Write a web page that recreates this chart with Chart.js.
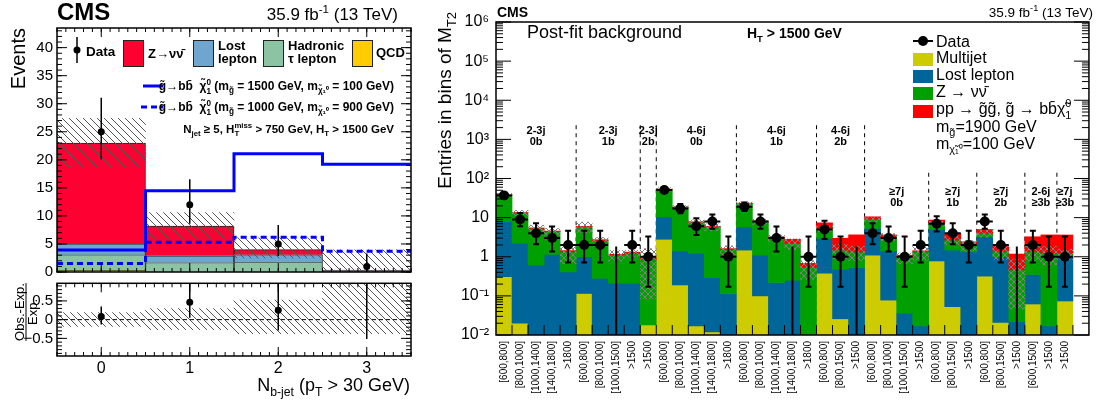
<!DOCTYPE html>
<html>
<head>
<meta charset="utf-8">
<script src="https://cdn.jsdelivr.net/npm/chart.js@4.4.1/dist/chart.umd.min.js"></script>
<style>
body { margin: 0; background: #fff; }
#wrap { position: relative; width: 1099px; height: 400px; }
canvas { position: absolute; }
</style>
</head>
<body>
<div id="wrap">
<canvas id="leftMain" width="420" height="285" style="left:0;top:0"></canvas>
<canvas id="leftRatio" width="420" height="130" style="left:0;top:270px"></canvas>
<canvas id="right" width="679" height="400" style="left:420px;top:0"></canvas>
</div>
<script>
// ---------- left panel: N b-jet distribution ----------
const nbJet = [0, 1, 2, 3];
const qcd = [0.3, 0.05, 0.05, 0.02];
const hadTau = [2.8, 1.65, 1.75, 0.15];
const lostLep = [1.9, 1.2, 1.3, 0.12];
const zInv = [18.0, 5.3, 0.9, 0.06];
const bkgUncUp = [4.4, 2.4, 2.1, 3.6];
const bkgUncDn = [4.2, 2.2, 1.5, 0.13];
const sig1500 = [3.9, 14.5, 21.1, 19.2];
const sig1000 = [1.5, 5.3, 6.2, 3.7];
const obsLeft = [25, 12, 5, 1];

// ---------- right panel: post-fit, HT > 1500 GeV ----------
const binLabels = ['[600,800]', '[800,1000]', '[1000,1400]', '[1400,1800]', '>1800',
    '[600,800]', '[800,1000]', '[1000,1500]', '>1500',
    '>1500',
    '[600,800]', '[800,1000]', '[1000,1400]', '[1400,1800]', '>1800',
    '[600,800]', '[800,1000]', '[1000,1400]', '[1400,1800]', '>1800',
    '[600,800]', '[800,1500]', '>1500',
    '[600,800]', '[800,1000]', '[1000,1500]', '>1500',
    '[600,800]', '[800,1500]', '>1500',
    '[600,800]', '[800,1500]', '>1500',
    '[600,1500]', '>1500',
    '>1500', ''];
const groupJets = ['2-3j', '2-3j', '2-3j', '4-6j', '4-6j', '4-6j', '≥7j', '≥7j', '≥7j', '2-6j', '≥7j'];
const groupBtags = ['0b', '1b', '2b', '0b', '1b', '2b', '0b', '1b', '2b', '≥3b', '≥3b'];
const groupSizes = [5, 4, 1, 5, 5, 3, 4, 3, 3, 2, 1];

const multijet = [0.31, 0.02, 0, 0, 0, 0.115, 0, 0, 0, 0.018, 2.8, 0.19, 0.017, 0.012, 0, 1.48, 0.1, 0, 0, 0,
    0.38, 0.026, 0, 1.1, 0.078, 0, 0, 0.78, 0.053, 0, 0.32, 0.021, 0, 0.062, 0, 0.074, 0];
const lostLepton = [7.6, 2.18, 0.61, 1.15, 0.41, 0.885, 0.28, 0.21, 0.21, 0, 7.7, 1.21, 1.2, 0.28, 0.115, 4.3, 1.0, 0.22, 0.25, 0,
    2.58, 0.45, 0.53, 4.2, 1.32, 0.036, 0.017, 4.2, 1.43, 1.34, 2.93, 0.98, 0.022, 0.29, 0.017, 0.93, 0];
const zNuNu = [30, 11.1, 4.7, 3.25, 0.93, 4.9, 2.3, 0.9, 1.0, 0.83, 42.5, 17, 6.4, 5.5, 1.4, 17, 6.8, 2.8, 1.95, 0.53,
    2.3, 1.0, 0.8, 3.7, 1.85, 0.92, 1.35, 2.1, 1.19, 0.66, 0.72, 0.4, 0.44, 0.99, 1.2, 0.2, 0];
const signal = [0.2, 0.2, 0.15, 0.15, 0.1, 0.1, 0.15, 0.05, 0.1, 0.1, 0.5, 0.3, 0.2, 0.15, 0.1, 0.6, 0.3, 0.2, 0.6, 0.15,
    2.1, 1.5, 2.3, 1.5, 0.35, 0.14, 0.05, 1.6, 1.3, 0.4, 1.0, 0.5, 0.71, 1.9, 2.4, 2.4, 0];
const bkgRelUnc = [0.1, 0.15, 0.2, 0.2, 0.5, 0.3, 0.2, 0.3, 0.2, 0.9, 0.1, 0.1, 0.15, 0.2, 0.25, 0.1, 0.15, 0.2, 0.3, 0.5,
    0.15, 0.4, 0.4, 0.15, 0.2, 0.3, 0.4, 0.15, 0.25, 0.3, 0.2, 0.4, 0.9, 0.4, 0.5, 0.3, 0];
const obsRight = [37, 9, 4, 3, 2, 2, 2, 0, 2, 1, 51, 17, 6, 8, 1, 19, 8, 3, 0, 1,
    5, 1, 0, 4, 3, 1, 2, 7, 4, 2, 8, 2, 0, 2, 1, 1, null];

// 68% Poisson (Garwood) intervals for the observed counts
const garwood = {0: [0, 1.84], 1: [0.17, 3.30], 2: [0.71, 4.64], 3: [1.37, 5.92], 4: [2.09, 7.16], 5: [2.84, 8.38],
    6: [3.62, 9.58], 7: [4.42, 10.77], 8: [5.23, 11.95], 9: [6.06, 13.11], 12: [8.59, 16.52], 17: [12.92, 22.2],
    19: [14.68, 24.43], 25: [20.04, 31.06], 37: [30.95, 44.14], 51: [43.88, 59.19]};

Chart.defaults.font.family = "'Liberation Sans', Arial, Helvetica, sans-serif";
Chart.defaults.color = '#000';
Chart.defaults.animation = false;
Chart.defaults.plugins.legend.display = false;
Chart.defaults.plugins.tooltip.enabled = false;

const FAM = "'Liberation Sans', Arial, Helvetica, sans-serif";

// text with sub/superscripts: parts are strings or [text, 'sub'|'sup'|'subsup', text2]
function richText(ctx, parts, x, y, size, weight, align) {
    const small = size * 0.68;
    let total = 0;
    const items = parts.map(p => {
        const [t, mode, t2] = typeof p === 'string' ? [p, ''] : p;
        const s = mode ? small : size;
        ctx.font = weight + ' ' + s + 'px ' + FAM;
        let w = ctx.measureText(t).width;
        if (t2) w = Math.max(w, ctx.measureText(t2).width);
        total += w;
        return {t, mode, t2, s, w};
    });
    let cx = align === 'right' ? x - total : align === 'center' ? x - total / 2 : x;
    ctx.textAlign = 'left';
    ctx.textBaseline = 'alphabetic';
    items.forEach(it => {
        ctx.font = weight + ' ' + it.s + 'px ' + FAM;
        if (it.mode === 'sub') ctx.fillText(it.t, cx, y + size * 0.28);
        else if (it.mode === 'sup') ctx.fillText(it.t, cx, y - size * 0.42);
        else if (it.mode === 'subsup') {
            ctx.fillText(it.t, cx, y + size * 0.3);
            ctx.fillText(it.t2, cx, y - size * 0.42);
        } else ctx.fillText(it.t, cx, y);
        cx += it.w;
    });
    return total;
}

function makeHatch(ctx, size, color, cross) {
    const c = document.createElement('canvas');
    c.width = c.height = size;
    const g = c.getContext('2d');
    g.strokeStyle = color;
    g.lineWidth = 1;
    g.beginPath();
    g.moveTo(-1, -1); g.lineTo(size + 1, size + 1);
    g.moveTo(-1, size - 1); g.lineTo(1, size + 1);
    g.moveTo(size - 1, -1); g.lineTo(size + 1, 1);
    if (cross) {
        g.moveTo(-1, size + 1); g.lineTo(size + 1, -1);
        g.moveTo(-1, 1); g.lineTo(1, -1);
        g.moveTo(size - 1, size + 1); g.lineTo(size + 1, size - 1);
    }
    g.stroke();
    return ctx.createPattern(c, 'repeat');
}

// inside ticks + frame for the linear left panels
function frameTicks(yMinor, yMajor) {
    return {
        id: 'frameTicks',
        afterDraw(chart) {
            const {ctx, chartArea: a, scales: {x, y}} = chart;
            ctx.save();
            ctx.strokeStyle = '#000';
            ctx.lineWidth = 1;
            ctx.beginPath();
            const mark = (scale, step, len, vertical) => {
                for (let k = Math.ceil(scale.min / step - 1e-6); k * step <= scale.max + 1e-6; k++) {
                    const p = scale.getPixelForValue(k * step);
                    if (vertical) {
                        ctx.moveTo(a.left, p); ctx.lineTo(a.left + len, p);
                        ctx.moveTo(a.right, p); ctx.lineTo(a.right - len, p);
                    } else {
                        ctx.moveTo(p, a.bottom); ctx.lineTo(p, a.bottom - len);
                        ctx.moveTo(p, a.top); ctx.lineTo(p, a.top + len);
                    }
                }
            };
            mark(y, yMinor, 5, true);
            mark(y, yMajor, 10, true);
            mark(x, 0.1, 4, false);
            mark(x, 1, 9, false);
            ctx.stroke();
            ctx.lineWidth = 1.5;
            ctx.strokeRect(a.left, a.top, a.width, a.height);
            ctx.restore();
        }
    };
}

// vertical (and optional horizontal) error bars, drawn just before the data markers
function errorBars(index, values, lo, hi, opt) {
    return {
        id: 'errorBars',
        beforeDatasetDraw(chart, args) {
            if (args.index !== index) return;
            const {ctx, chartArea: a, scales: {x, y}} = chart;
            ctx.save();
            ctx.beginPath();
            ctx.rect(a.left, a.top, a.width, a.height);
            ctx.clip();
            ctx.strokeStyle = '#000';
            ctx.lineWidth = opt.width;
            ctx.beginPath();
            values.forEach((v, i) => {
                if (v === null) return;
                const px = x.getPixelForValue(opt.xs ? opt.xs[i] : i);
                const pHi = y.getPixelForValue(hi[i]);
                const pLo = (opt.log && lo[i] <= 0) ? a.bottom : y.getPixelForValue(lo[i]);
                ctx.moveTo(px, pLo); ctx.lineTo(px, pHi);
                if (opt.hbar && v > 0) {
                    const half = (x.getPixelForValue(1) - x.getPixelForValue(0)) / 2;
                    const py = y.getPixelForValue(v);
                    ctx.moveTo(px - half, py); ctx.lineTo(px + half, py);
                    ctx.moveTo(px - 3, pHi); ctx.lineTo(px + 3, pHi);
                    ctx.moveTo(px - 3, pLo); ctx.lineTo(px + 3, pLo);
                }
            });
            ctx.stroke();
            ctx.restore();
        }
    };
}

// integer ticks only on the N b-jet axes
const nbTicks = s => { s.ticks = nbJet.map(v => ({value: v})); };

// ================= LEFT MAIN =================
const ctxL = document.getElementById('leftMain').getContext('2d');
const leftLayers = [qcd, hadTau, lostLep, zInv];
const leftColors = ['#ffcc00', '#8cc3a2', '#6fa6cf', '#ff0033'];
const leftBkg = nbJet.map((n, i) => qcd[i] + hadTau[i] + lostLep[i] + zInv[i]);
const leftDatasets = [];
let cum = nbJet.map(() => 0);
leftLayers.forEach((layer, k) => {
    const data = nbJet.map((n, i) => ({x: n, y: [cum[i], cum[i] + layer[i]]}));
    cum = cum.map((c, i) => c + layer[i]);
    leftDatasets.push({type: 'bar', data, backgroundColor: leftColors[k], borderColor: '#222', borderWidth: 1,
        grouped: false, barPercentage: 1, categoryPercentage: 1, order: 6 - k});
});
const stepPoints = arr => nbJet.map((n, i) => ({x: n - 0.5, y: arr[i]}))
    .concat([{x: nbJet[nbJet.length - 1] + 0.5, y: arr[arr.length - 1]}]);
leftDatasets.push({type: 'bar', data: nbJet.map((n, i) => ({x: n, y: [Math.max(0, leftBkg[i] - bkgUncDn[i]), leftBkg[i] + bkgUncUp[i]]})),
    backgroundColor: makeHatch(ctxL, 7, '#555', false), borderWidth: 0, grouped: false,
    barPercentage: 1, categoryPercentage: 1, order: 2});
leftDatasets.push({type: 'line', data: stepPoints(sig1500), stepped: 'before', borderColor: '#0000ff',
    borderWidth: 3, pointRadius: 0, order: 1});
leftDatasets.push({type: 'line', data: stepPoints(sig1000), stepped: 'before', borderColor: '#0000ff',
    borderWidth: 3, borderDash: [6, 4], pointRadius: 0, order: 1});
leftDatasets.push({type: 'line', data: nbJet.map((n, i) => ({x: n, y: obsLeft[i]})), showLine: false,
    pointRadius: 3.5, pointBackgroundColor: '#000', pointBorderWidth: 0, order: 0});
const leftDataIdx = leftDatasets.length - 1;

const leftText = {
    id: 'leftText',
    afterDraw(chart) {
        const ctx = chart.ctx;
        ctx.save();
        ctx.fillStyle = '#000';
        richText(ctx, ['CMS'], 57, 20, 24, 'bold', 'left');
        richText(ctx, ['35.9 fb', ['-1', 'sup'], ' (13 TeV)'], 398, 20, 17, 'normal', 'right');
        // y title
        ctx.save();
        ctx.translate(25, 28);
        ctx.rotate(-Math.PI / 2);
        richText(ctx, ['Events'], 0, 0, 20, 'normal', 'right');
        ctx.restore();
        // legend row
        ctx.strokeStyle = '#000';
        ctx.lineWidth = 1.5;
        ctx.beginPath(); ctx.moveTo(77, 37); ctx.lineTo(77, 63); ctx.stroke();
        ctx.beginPath(); ctx.arc(77, 50, 3.5, 0, 2 * Math.PI); ctx.fill();
        richText(ctx, ['Data'], 86, 56, 13.5, 'bold', 'left');
        const boxes = [[123, leftColors[3]], [193, leftColors[2]], [263, leftColors[1]], [352, leftColors[0]]];
        ctx.lineWidth = 1;
        boxes.forEach(([bx, col]) => {
            ctx.fillStyle = col; ctx.fillRect(bx, 40, 20, 26);
            ctx.strokeStyle = '#222'; ctx.strokeRect(bx + 0.5, 40.5, 20, 26);
        });
        ctx.fillStyle = '#000';
        richText(ctx, ['Z→νν̄'], 148, 58, 13, 'bold', 'left');
        richText(ctx, ['Lost'], 218, 50, 13, 'bold', 'left');
        richText(ctx, ['lepton'], 218, 63, 13, 'bold', 'left');
        richText(ctx, ['Hadronic'], 288, 50, 13, 'bold', 'left');
        richText(ctx, ['τ lepton'], 288, 63, 13, 'bold', 'left');
        richText(ctx, ['QCD'], 376, 57, 13, 'bold', 'left');
        // signal legend
        ctx.strokeStyle = '#0000ff';
        ctx.lineWidth = 3;
        ctx.beginPath(); ctx.moveTo(143, 86); ctx.lineTo(163, 86); ctx.stroke();
        ctx.setLineDash([6, 4]);
        ctx.beginPath(); ctx.moveTo(141, 107); ctx.lineTo(163, 107); ctx.stroke();
        ctx.setLineDash([]);
        richText(ctx, ['g̃→bb̄  χ̃', ['1', 'subsup', '0'], ' (m', ['g̃', 'sub'], ' = 1500 GeV, m', ['χ̃₁⁰', 'sub'], ' = 100 GeV)'],
            394, 90, 12, 'bold', 'right');
        richText(ctx, ['g̃→bb̄  χ̃', ['1', 'subsup', '0'], ' (m', ['g̃', 'sub'], ' = 1000 GeV, m', ['χ̃₁⁰', 'sub'], ' = 900 GeV)'],
            394, 111, 12, 'bold', 'right');
        richText(ctx, ['N', ['jet', 'sub'], ' ≥ 5, H', ['T', 'subsup', 'miss'], ' > 750 GeV, H', ['T', 'sub'], ' > 1500 GeV'],
            394, 133, 11.5, 'bold', 'right');
        ctx.restore();
    }
};

new Chart(ctxL, {
    type: 'bar',
    data: {datasets: leftDatasets},
    options: {
        responsive: false,
        devicePixelRatio: 1,
        layout: {padding: {top: 28, right: 9, bottom: 0, left: 0}},
        scales: {
            x: {type: 'linear', min: -0.5, max: 3.5, offset: false, ticks: {display: false},
                grid: {display: false, drawTicks: false}, border: {display: false},
                afterBuildTicks: nbTicks,
                afterFit: s => { s.height = 11.5; }},
            y: {min: 0, max: 43.5, grid: {display: false, drawTicks: false}, border: {display: false},
                ticks: {stepSize: 5, padding: 4, font: {size: 15}, autoSkip: false,
                    callback: v => (Math.abs(v % 5) < 1e-6 ? String(v) : '')},
                afterFit: s => { s.width = 57; }}
        }
    },
    plugins: [errorBars(leftDataIdx, obsLeft, obsLeft.map(n => garwood[n][0]), obsLeft.map(n => garwood[n][1]),
        {xs: nbJet, width: 1.5}), frameTicks(1, 5), leftText]
});

// ================= LEFT RATIO =================
const ctxQ = document.getElementById('leftRatio').getContext('2d');
const ratio = nbJet.map((n, i) => (obsLeft[i] - leftBkg[i]) / leftBkg[i]);
const ratioLo = nbJet.map((n, i) => (garwood[obsLeft[i]][0] - leftBkg[i]) / leftBkg[i]);
const ratioHi = nbJet.map((n, i) => (garwood[obsLeft[i]][1] - leftBkg[i]) / leftBkg[i]);

const ratioText = {
    id: 'ratioText',
    beforeDatasetsDraw(chart) {
        const {ctx, chartArea: a, scales: {y}} = chart;
        ctx.save();
        ctx.strokeStyle = '#000';
        ctx.lineWidth = 1;
        ctx.setLineDash([4, 3]);
        ctx.beginPath();
        ctx.moveTo(a.left, y.getPixelForValue(0));
        ctx.lineTo(a.right, y.getPixelForValue(0));
        ctx.stroke();
        ctx.restore();
    },
    afterDraw(chart) {
        const ctx = chart.ctx;
        ctx.save();
        ctx.fillStyle = '#000';
        ctx.translate(26, 42);
        ctx.rotate(-Math.PI / 2);
        ctx.font = '13px ' + FAM;
        ctx.textAlign = 'center';
        ctx.fillText('Obs.-Exp.', 0, -2);
        ctx.fillText('Exp.', 0, 11);
        const w = ctx.measureText('Obs.-Exp.').width;
        ctx.lineWidth = 1;
        ctx.beginPath(); ctx.moveTo(-w / 2, 0); ctx.lineTo(w / 2, 0); ctx.stroke();
        ctx.restore();
        richText(ctx, ['N', ['b-jet', 'sub'], ' (p', ['T', 'sub'], ' > 30 GeV)'], 410, 121, 18, 'normal', 'right');
    }
};

new Chart(ctxQ, {
    type: 'bar',
    data: {datasets: [
        {type: 'bar', data: nbJet.map((n, i) => ({x: n, y: [-bkgUncDn[i] / leftBkg[i], bkgUncUp[i] / leftBkg[i]]})),
            backgroundColor: makeHatch(ctxQ, 7, '#555', false), borderWidth: 0, grouped: false,
            barPercentage: 1, categoryPercentage: 1, order: 1},
        {type: 'line', data: nbJet.map((n, i) => ({x: n, y: ratio[i]})), showLine: false,
            pointRadius: 3.5, pointBackgroundColor: '#000', pointBorderWidth: 0, order: 0}
    ]},
    options: {
        responsive: false,
        devicePixelRatio: 1,
        layout: {padding: {top: 13.3, right: 9, bottom: 0, left: 0}},
        scales: {
            x: {type: 'linear', min: -0.5, max: 3.5, offset: false,
                grid: {display: false, drawTicks: false}, border: {display: false},
                afterBuildTicks: nbTicks,
                ticks: {padding: 3, font: {size: 16}, autoSkip: false, callback: v => String(v)},
                afterFit: s => { s.height = 44; }},
            y: {min: -0.97, max: 0.97, grid: {display: false, drawTicks: false}, border: {display: false},
                ticks: {stepSize: 0.5, padding: 4, font: {size: 15}, autoSkip: false,
                    callback: v => {
                        if (Math.abs(v * 2 - Math.round(v * 2)) > 1e-6 || Math.abs(v) > 0.9) return '';
                        return v < 0 ? '−' + String(-v) : String(v);
                    }},
                afterFit: s => { s.width = 57; }}
        }
    },
    plugins: [errorBars(1, ratio, ratioLo, ratioHi, {xs: nbJet, width: 1.5}), frameTicks(0.1, 0.5), ratioText]
});

// ================= RIGHT =================
const ctxR = document.getElementById('right').getContext('2d');
const rTop1 = multijet.slice();
const rTop2 = multijet.map((v, i) => v + lostLepton[i]);
const bkgRight = rTop2.map((v, i) => v + zNuNu[i]);
const floatBar = (lo, thick) => thick.map((t, i) => (t > 0 ? [Math.max(lo[i], 1e-3), lo[i] + t] : null));
const rightColors = {multijet: '#cccc00', lost: '#006699', znn: '#00a000', sig: '#ff0000'};

const superDigits = {'-': '⁻', '0': '⁰', '1': '¹', '2': '²', '3': '³', '4': '⁴', '5': '⁵', '6': '⁶', '7': '⁷', '8': '⁸', '9': '⁹'};
function logLabel(v) {
    const e = Math.log10(v);
    if (Math.abs(e - Math.round(e)) > 1e-6) return '';
    const n = Math.round(e);
    if (n === 0) return '1';
    if (n === 1) return '10';
    return '10' + String(n).split('').map(c => superDigits[c]).join('');
}

const barBase = {type: 'bar', borderWidth: 0, grouped: false, barPercentage: 1, categoryPercentage: 1};
const rightDatasets = [
    Object.assign({data: floatBar(multijet.map(() => 0), multijet), backgroundColor: rightColors.multijet, order: 5}, barBase),
    Object.assign({data: floatBar(rTop1, lostLepton), backgroundColor: rightColors.lost, order: 4}, barBase),
    Object.assign({data: floatBar(rTop2, zNuNu), backgroundColor: rightColors.znn, order: 3}, barBase),
    Object.assign({data: floatBar(bkgRight, signal), backgroundColor: rightColors.sig, order: 2}, barBase),
    Object.assign({data: bkgRight.map((b, i) => (b > 0 ? [b * (1 - bkgRelUnc[i]), b * (1 + bkgRelUnc[i])] : null)),
        backgroundColor: makeHatch(ctxR, 6, '#808080', true), order: 1}, barBase),
    {type: 'line', data: obsRight.map(v => (v > 0 ? v : null)), showLine: false, pointRadius: 5,
        pointBackgroundColor: '#000', pointBorderWidth: 0, order: 0}
];

const rightDeco = {
    id: 'rightDeco',
    beforeDatasetsDraw(chart) {
        const {ctx, chartArea: a, scales: {x, y}} = chart;
        ctx.save();
        ctx.strokeStyle = '#000';
        ctx.lineWidth = 1;
        ctx.setLineDash([4, 4]);
        let start = 0;
        groupSizes.forEach((n, g) => {
            start += n;
            if (g === groupSizes.length - 1) return;
            const p = (x.getPixelForValue(start - 1) + x.getPixelForValue(start)) / 2;
            const top = y.getPixelForValue(g < 6 ? 2300 : 140);
            ctx.beginPath(); ctx.moveTo(p, top); ctx.lineTo(p, a.bottom); ctx.stroke();
        });
        ctx.restore();
    },
    afterDraw(chart) {
        const {ctx, chartArea: a, scales: {x, y}} = chart;
        ctx.save();
        ctx.strokeStyle = '#000';
        ctx.fillStyle = '#000';
        ctx.lineWidth = 1;
        ctx.beginPath();
        for (let e = Math.floor(Math.log10(y.min)); e <= Math.ceil(Math.log10(y.max)); e++) {
            for (let m = 1; m <= 9; m++) {
                const v = m * Math.pow(10, e);
                if (v < y.min * 0.999 || v > y.max * 1.001) continue;
                const p = y.getPixelForValue(v);
                const len = m === 1 ? 15 : 7;
                ctx.moveTo(a.left, p); ctx.lineTo(a.left + len, p);
                ctx.moveTo(a.right, p); ctx.lineTo(a.right - len, p);
            }
        }
        for (let i = 1; i < binLabels.length; i++) {
            const p = (x.getPixelForValue(i - 1) + x.getPixelForValue(i)) / 2;
            ctx.moveTo(p, a.bottom); ctx.lineTo(p, a.bottom - 10);
        }
        ctx.stroke();
        ctx.lineWidth = 1.5;
        ctx.strokeRect(a.left, a.top, a.width, a.height);

        // group labels
        let start = 0;
        groupSizes.forEach((n, g) => {
            const cx = (x.getPixelForValue(start) + x.getPixelForValue(start + n - 1)) / 2;
            const base = y.getPixelForValue(g < 6 ? 1375 : 38);
            richText(ctx, [groupJets[g]], cx, base, 11, 'bold', 'center');
            richText(ctx, [groupBtags[g]], cx, base + 11, 11, 'bold', 'center');
            start += n;
        });

        // headers
        richText(ctx, ['CMS'], 77, 17, 14, 'bold', 'left');
        richText(ctx, ['35.9 fb', ['-1', 'sup'], ' (13 TeV)'], 673, 17, 13.5, 'normal', 'right');
        richText(ctx, ['Post-fit background'], 107, 38, 18, 'normal', 'left');
        richText(ctx, ['H', ['T', 'sub'], ' > 1500 GeV'], 327, 38, 14, 'bold', 'left');

        // y title
        ctx.save();
        ctx.translate(31, 12);
        ctx.rotate(-Math.PI / 2);
        richText(ctx, ['Entries in bins of M', ['T2', 'sub']], 0, 0, 19, 'normal', 'right');
        ctx.restore();

        // legend
        ctx.lineWidth = 2;
        ctx.beginPath(); ctx.moveTo(493, 41); ctx.lineTo(513, 41); ctx.stroke();
        ctx.beginPath(); ctx.arc(503, 41, 5, 0, 2 * Math.PI); ctx.fill();
        richText(ctx, ['Data'], 516, 47, 16, 'normal', 'left');
        const boxes = [[53, rightColors.multijet], [70, rightColors.lost], [87, rightColors.znn], [105, rightColors.sig]];
        boxes.forEach(([by, col]) => { ctx.fillStyle = col; ctx.fillRect(493, by, 20, 13); });
        ctx.fillStyle = '#000';
        richText(ctx, ['Multijet'], 516, 63, 16, 'normal', 'left');
        richText(ctx, ['Lost lepton'], 516, 80, 16, 'normal', 'left');
        richText(ctx, ['Z → νν̄'], 516, 97, 16, 'normal', 'left');
        richText(ctx, ['pp → g̃g̃, g̃ → bb̄χ̃', ['1', 'subsup', '0']], 516, 114, 16, 'normal', 'left');
        richText(ctx, ['m', ['g̃', 'sub'], '=1900 GeV'], 516, 132, 16, 'normal', 'left');
        richText(ctx, ['m', ['χ̃₁⁰', 'sub'], '=100 GeV'], 516, 149, 16, 'normal', 'left');
        ctx.restore();
    }
};

const rightLo = obsRight.map(n => (n === null ? null : garwood[n][0]));
const rightHi = obsRight.map(n => (n === null ? null : garwood[n][1]));

new Chart(ctxR, {
    type: 'bar',
    data: {labels: binLabels, datasets: rightDatasets},
    options: {
        responsive: false,
        devicePixelRatio: 1,
        layout: {padding: {top: 22, right: 4, bottom: 0, left: 0}},
        scales: {
            x: {type: 'category', offset: true, grid: {display: false, drawTicks: false}, border: {display: false},
                ticks: {autoSkip: false, minRotation: 90, maxRotation: 90, padding: 6, font: {size: 10}},
                afterFit: s => { s.height = 65; }},
            y: {type: 'logarithmic', min: 0.01, max: 1e6, grid: {display: false, drawTicks: false},
                border: {display: false},
                ticks: {autoSkip: false, padding: 7, font: {size: 16}, callback: v => logLabel(v)},
                afterFit: s => { s.width = 76; }}
        }
    },
    plugins: [errorBars(5, obsRight, rightLo, rightHi, {width: 2, log: true, hbar: true}), rightDeco]
});
</script>
</body>
</html>
